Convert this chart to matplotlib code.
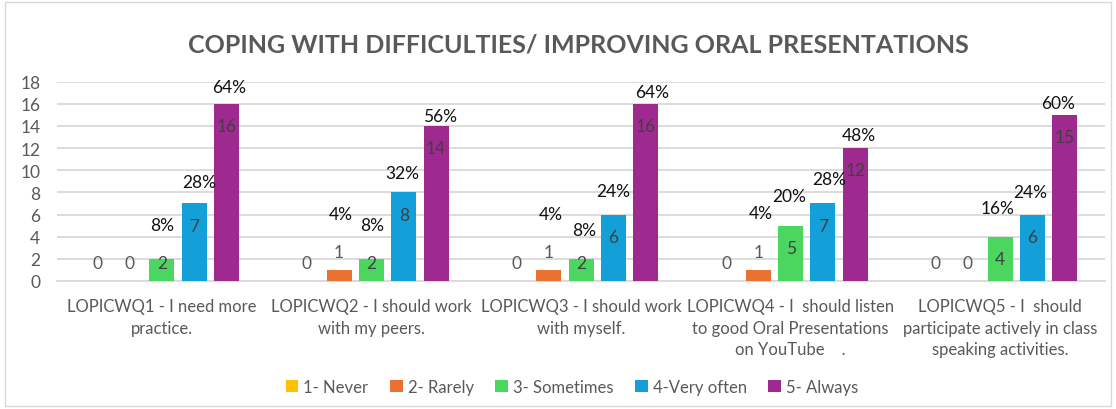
import matplotlib
matplotlib.use("Agg")
import matplotlib.pyplot as plt
import numpy as np

categories = [
    "LOPICWQ1 - I need more\npractice.",
    "LOPICWQ2 - I should work\nwith my peers.",
    "LOPICWQ3 - I should work\nwith myself.",
    "LOPICWQ4 - I  should listen\nto good Oral Presentations\non YouTube    .",
    "LOPICWQ5 - I  should\nparticipate actively in class\nspeaking activities.",
]
series_names = ["1- Never", "2- Rarely", "3- Sometimes", "4-Very often", "5- Always"]
never = [0, 0, 0, 0, 0]
rarely = [0, 1, 1, 1, 0]
sometimes = [2, 2, 2, 5, 4]
very_often = [7, 8, 6, 7, 6]
always = [16, 14, 16, 12, 15]
total_respondents = 25
title = "COPING WITH DIFFICULTIES/ IMPROVING ORAL PRESENTATIONS"

colors = ["#FFC000", "#E97132", "#4BD65F", "#139FD8", "#9E2A90"]

# layout: percent label positions (y in data units, x offset in px) per series/group
pct_y = {
    2: [5.06, 5.06, 4.6, 7.68, 6.6],
    3: [8.94, 9.76, 8.13, 9.21, 8.04],
    4: [17.53, 14.9, 17.07, 13.19, 16.08],
    1: [None, 6.05, 6.05, 6.14, None],
}
pct_dx = {
    2: [0, 1, 3.6, -1.6, -2.5],
    3: [5.5, -1, 0, 6, -2],
    4: [2.5, 4, 7, 3.5, -7],
    1: [0, 1.5, 2.5, 2, 0],
}

fam = ["Lato", "DejaVu Sans"]
plt.rcParams["font.family"] = fam

W, H = 1116, 410
fig = plt.figure(figsize=(W / 100, H / 100), dpi=100)
ax = fig.add_axes([57 / W, 1 - 282 / H, (1105 - 57) / W, (282 - 82.7) / H])

series = [never, rarely, sometimes, very_often, always]
x = np.arange(len(categories))
gw = 209.6  # px per group
step = 32.3 / gw
bw = 25 / gw

for i, (vals, c, nm) in enumerate(zip(series, colors, series_names)):
    pos = x + (i - 2) * step
    ax.bar(pos, vals, width=bw, color=c, label=nm, zorder=3)
    for j, v in enumerate(vals):
        if v >= 2:
            ly = max(v - 2.0, 1.6)
            col = "#404040"
        else:
            ly = v + 1.6
            col = "#595959"
        ax.text(pos[j], ly, str(v), ha="center", va="center", fontsize=12.5, color=col, zorder=4)
        if v > 0 and i in pct_y and pct_y[i][j] is not None:
            pct = round(100 * v / total_respondents)
            ax.text(pos[j] + pct_dx[i][j] / gw, pct_y[i][j], f"{pct}%", ha="center", va="center",
                    fontsize=12.5, color="#111111", zorder=4)

ax.set_xlim(-0.5, len(categories) - 0.5)
ax.set_ylim(0, 18)
ax.set_yticks(range(0, 19, 2))
ax.yaxis.grid(True, color="#D9D9D9", linewidth=1.3, zorder=0)
ax.set_axisbelow(True)
for s in ["top", "right", "left"]:
    ax.spines[s].set_visible(False)
ax.spines["bottom"].set_color("#D9D9D9")
ax.spines["bottom"].set_linewidth(1.3)
ax.tick_params(axis="y", length=0, labelsize=12.5, labelcolor="#595959", pad=12)
ax.tick_params(axis="x", length=0, pad=12)
ax.set_xticks(x)
ax.set_xticklabels(categories, fontsize=12, color="#595959", linespacing=1.45)

fig.text(0.5 + 20 / W, 1 - 45 / H, title, ha="center", va="center", fontsize=18, fontweight="bold",
         color="#595959")

leg = fig.legend(loc="center", bbox_to_anchor=(572 / W, 1 - 388 / H), ncol=5, frameon=False,
                 handlelength=0.75, handleheight=0.75, handletextpad=0.3,
                 columnspacing=1.3, prop={"size": 12})
for t in leg.get_texts():
    t.set_color("#595959")

border = plt.Rectangle((5 / W, 3 / H), (W - 10) / W, (H - 6) / H, transform=fig.transFigure,
                       fill=False, edgecolor="#D9D9D9", linewidth=1)
fig.add_artist(border)

fig.savefig("out.png", dpi=100)
